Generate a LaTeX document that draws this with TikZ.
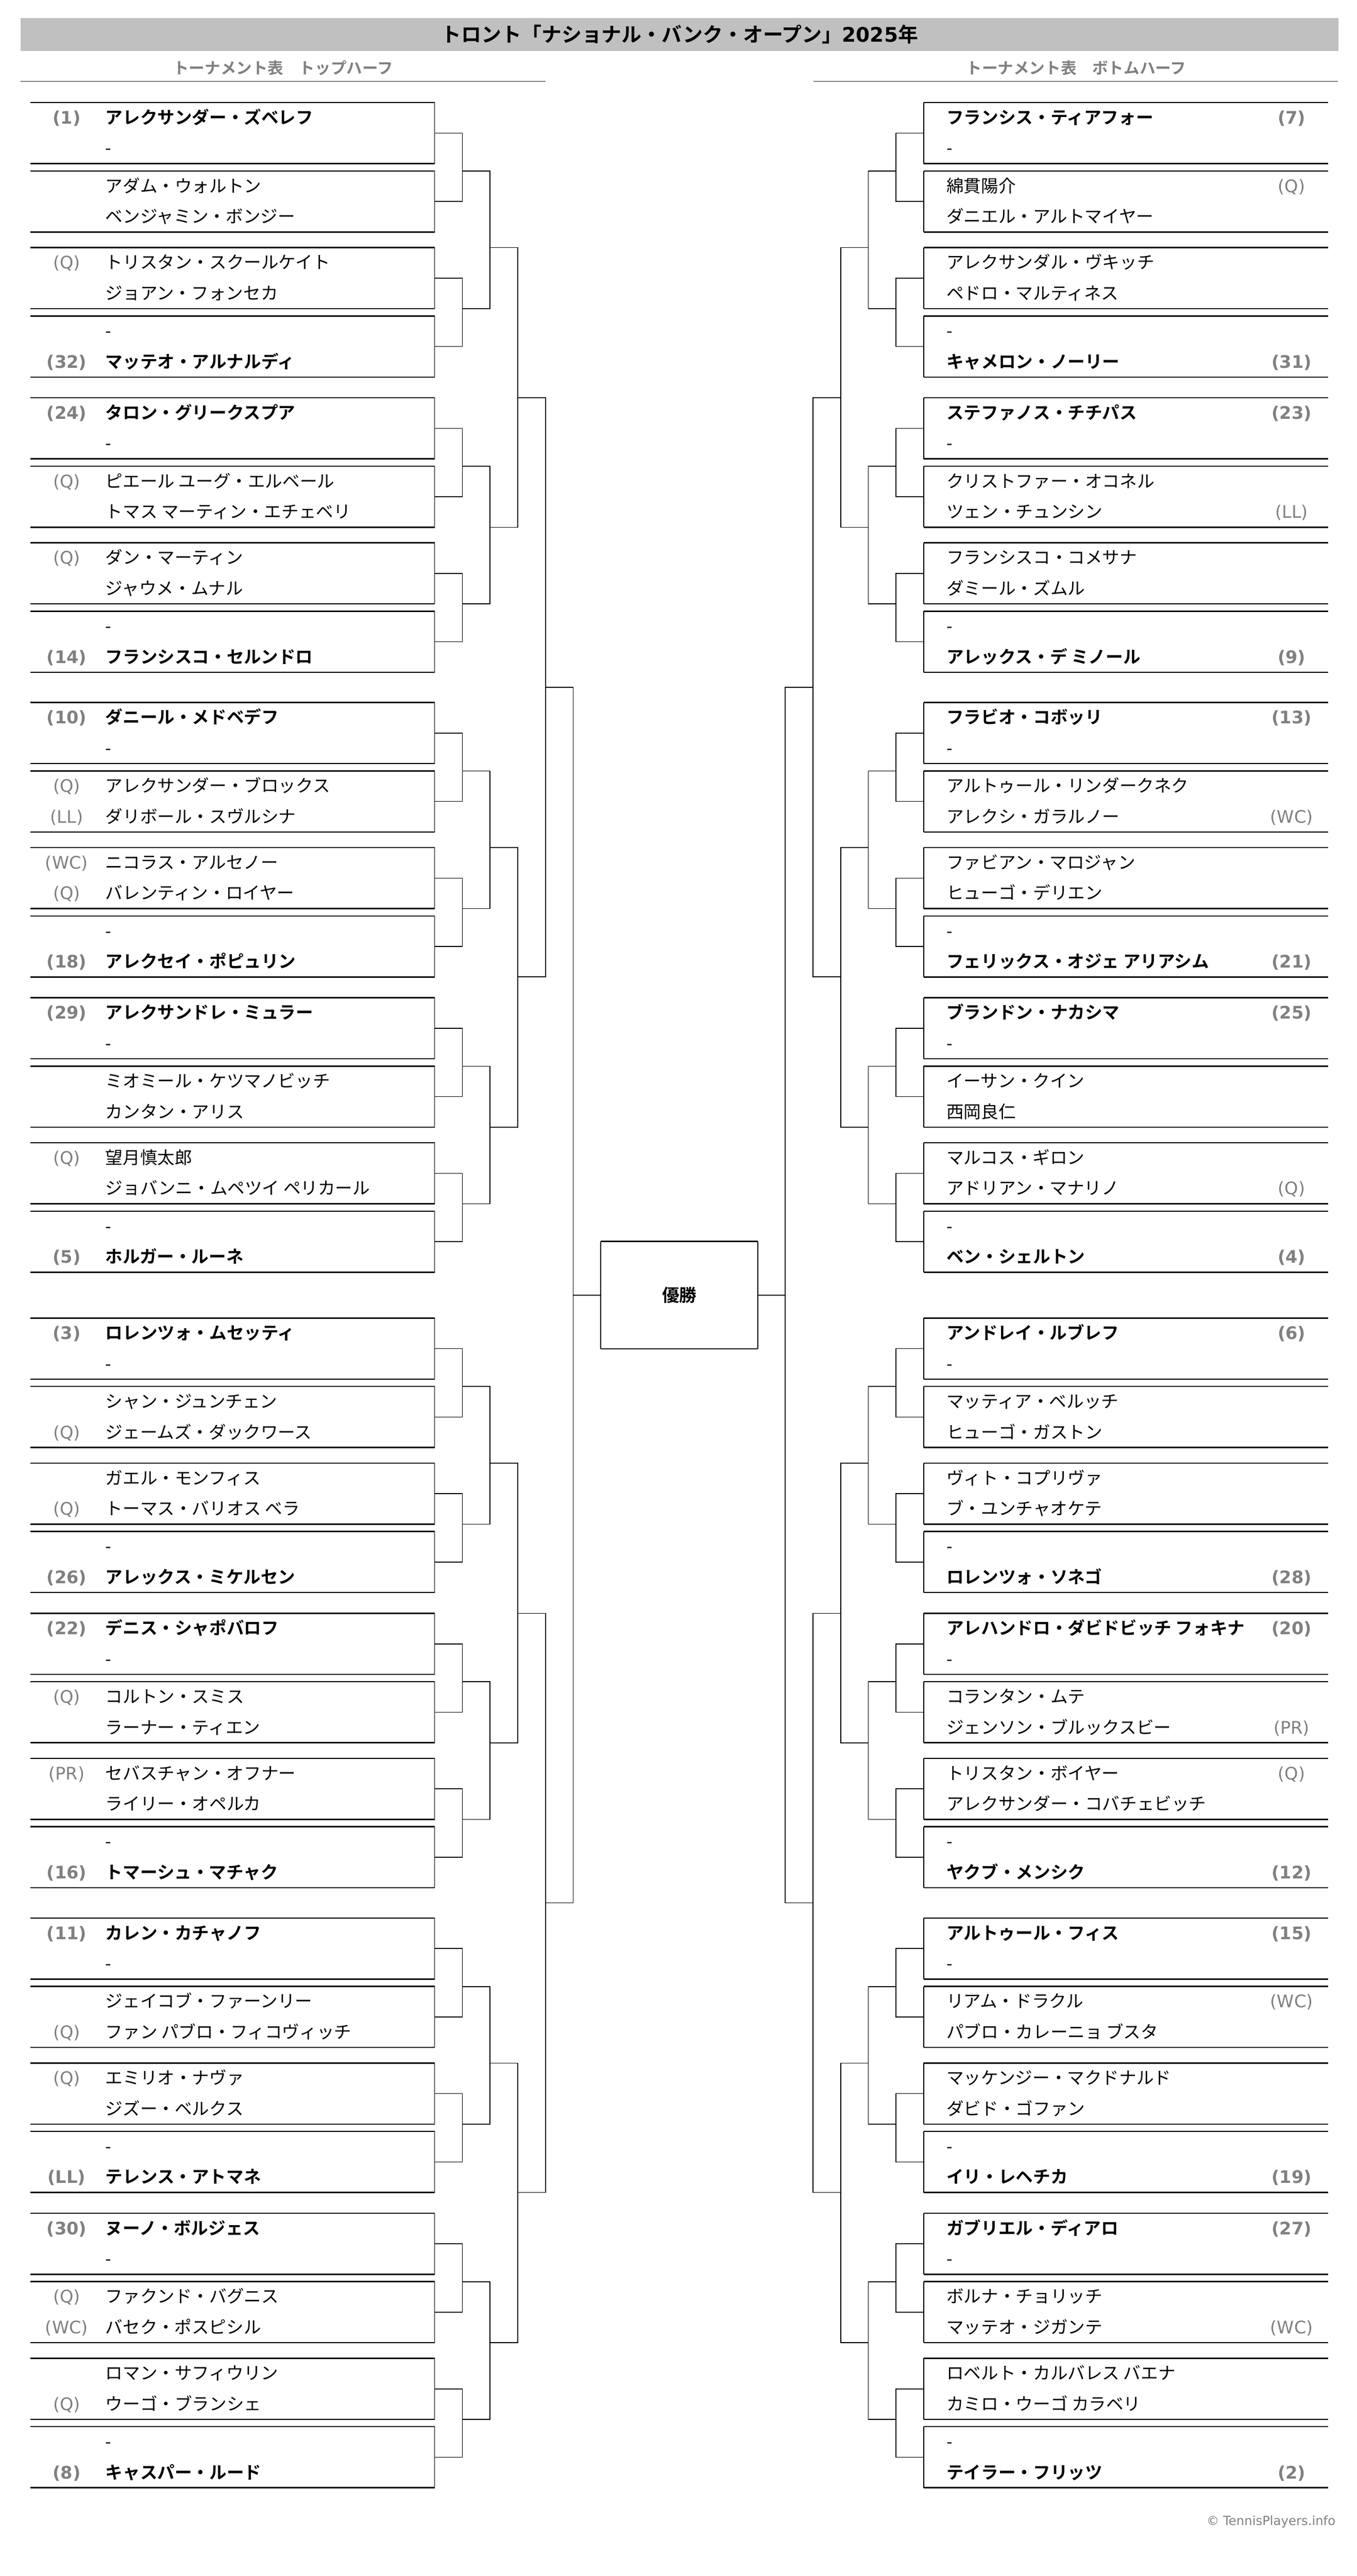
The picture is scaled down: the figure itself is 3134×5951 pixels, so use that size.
\documentclass[tikz,border=0pt]{standalone}
\usepackage{fontspec}
\setmainfont{Noto Sans CJK JP}[BoldFont={Noto Sans CJK JP Bold}]
\newfontfamily\latinfont{DejaVu Sans}
\usepackage{tikz}
\definecolor{barfill}{HTML}{C0C0C0}
\definecolor{seedgray}{HTML}{808080}

% one first-round match, left half: index, then flag/seed/name for both lines
\newcommand{\leftmatch}[7]{%
  \pgfmathsetmacro{\mtop}{boxtop(#1)}
  \node[matchslot, anchor=north west] (L#1) at (70,\mtop) {};
  \draw[boxrule] (L#1.north west) -- (L#1.north east);
  \draw[boxrule] (L#1.south west) -- (L#1.south east);
  \draw[wire] (L#1.north east) -- (L#1.south east);
  \node[seed#2] (L#1sa) at (154,\mtop+49) {#3};
  \node[name#2] (L#1na) at (243,\mtop+49) {#4};
  \node[seed#5] (L#1sb) at (154,\mtop+120) {#6};
  \node[name#5] (L#1nb) at (243,\mtop+120) {#7};
}
% same for the right half
\newcommand{\rightmatch}[7]{%
  \pgfmathsetmacro{\mtop}{boxtop(#1)}
  \node[matchslot, anchor=north east] (R#1) at (3068,\mtop) {};
  \draw[boxrule] (R#1.north west) -- (R#1.north east);
  \draw[boxrule] (R#1.south west) -- (R#1.south east);
  \draw[wire] (R#1.north west) -- (R#1.south west);
  \node[seed#2] (R#1sa) at (2984,\mtop+49) {#3};
  \node[name#2] (R#1na) at (2186,\mtop+49) {#4};
  \node[seed#5] (R#1sb) at (2984,\mtop+120) {#6};
  \node[name#5] (R#1nb) at (2186,\mtop+120) {#7};
}

\begin{document}
\begin{tikzpicture}[x=0.25pt, y=-0.25pt,
    declare function={boxtop(\n)=237+158*mod(\n,2)+335*mod(floor(\n/2),2)+682*mod(floor(\n/4),2)+1386*mod(floor(\n/8),2)+2808*floor(\n/16);},
    matchslot/.style={minimum width=233.5pt, minimum height=35.25pt, inner sep=0pt, outer sep=0pt},
    boxrule/.style={line width=0.75pt},
    wire/.style={line width=0.5pt},
    namen/.style={anchor=base west, inner sep=0pt, font=\fontsize{10pt}{12pt}\selectfont},
    nameb/.style={namen, font=\fontsize{10pt}{12pt}\selectfont\bfseries},
    seedn/.style={anchor=base, inner sep=0pt, text=seedgray, font=\latinfont\fontsize{10pt}{12pt}\selectfont},
    seedb/.style={seedn, font=\latinfont\fontsize{10pt}{12pt}\selectfont\bfseries},
    headline/.style={anchor=base, inner sep=0pt, font=\fontsize{11.6pt}{14pt}\selectfont\bfseries},
    subhead/.style={anchor=base, inner sep=0pt, text=seedgray, font=\fontsize{9.1pt}{11pt}\selectfont\bfseries},
    halfrule/.style={draw=seedgray, line width=0.75pt},
    champbox/.style={minimum width=90.75pt, minimum height=62pt, inner sep=0pt, outer sep=0pt, font=\fontsize{10pt}{12pt}\selectfont\bfseries},
    credit/.style={anchor=base east, inner sep=0pt, text=seedgray, font=\latinfont\fontsize{7.25pt}{9pt}\selectfont}]
    \useasboundingbox (0,0) rectangle (3134,5951);
    \fill[white] (0,0) rectangle (3134,5951);

    % Title bar
    \fill[barfill] (48,42) rectangle (3092,118);
    \node[headline] (heading) at (1570,97) {トロント「ナショナル・バンク・オープン」{\latinfont 2025}年};

    % Half headings
    \node[subhead] (tophalf) at (654,171) {トーナメント表　トップハーフ};
    \node[subhead] (bottomhalf) at (2486,171) {トーナメント表　ボトムハーフ};
    \draw[halfrule] (48,188) -- (1260,188);
    \draw[halfrule] (1879,188) -- (3091,188);

    % Top half (left)
    \leftmatch{0}{b}{(1)}{アレクサンダー・ズベレフ}{n}{}{-}
    \leftmatch{1}{n}{}{アダム・ウォルトン}{n}{}{ベンジャミン・ボンジー}
    \leftmatch{2}{n}{(Q)}{トリスタン・スクールケイト}{n}{}{ジョアン・フォンセカ}
    \leftmatch{3}{n}{}{-}{b}{(32)}{マッテオ・アルナルディ}
    \leftmatch{4}{b}{(24)}{タロン・グリークスプア}{n}{}{-}
    \leftmatch{5}{n}{(Q)}{ピエール ユーグ・エルベール}{n}{}{トマス マーティン・エチェベリ}
    \leftmatch{6}{n}{(Q)}{ダン・マーティン}{n}{}{ジャウメ・ムナル}
    \leftmatch{7}{n}{}{-}{b}{(14)}{フランシスコ・セルンドロ}
    \leftmatch{8}{b}{(10)}{ダニール・メドベデフ}{n}{}{-}
    \leftmatch{9}{n}{(Q)}{アレクサンダー・ブロックス}{n}{(LL)}{ダリボール・スヴルシナ}
    \leftmatch{10}{n}{(WC)}{ニコラス・アルセノー}{n}{(Q)}{バレンティン・ロイヤー}
    \leftmatch{11}{n}{}{-}{b}{(18)}{アレクセイ・ポピュリン}
    \leftmatch{12}{b}{(29)}{アレクサンドレ・ミュラー}{n}{}{-}
    \leftmatch{13}{n}{}{ミオミール・ケツマノビッチ}{n}{}{カンタン・アリス}
    \leftmatch{14}{n}{(Q)}{望月慎太郎}{n}{}{ジョバンニ・ムペツイ ペリカール}
    \leftmatch{15}{n}{}{-}{b}{(5)}{ホルガー・ルーネ}
    \leftmatch{16}{b}{(3)}{ロレンツォ・ムセッティ}{n}{}{-}
    \leftmatch{17}{n}{}{シャン・ジュンチェン}{n}{(Q)}{ジェームズ・ダックワース}
    \leftmatch{18}{n}{}{ガエル・モンフィス}{n}{(Q)}{トーマス・バリオス ベラ}
    \leftmatch{19}{n}{}{-}{b}{(26)}{アレックス・ミケルセン}
    \leftmatch{20}{b}{(22)}{デニス・シャポバロフ}{n}{}{-}
    \leftmatch{21}{n}{(Q)}{コルトン・スミス}{n}{}{ラーナー・ティエン}
    \leftmatch{22}{n}{(PR)}{セバスチャン・オフナー}{n}{}{ライリー・オペルカ}
    \leftmatch{23}{n}{}{-}{b}{(16)}{トマーシュ・マチャク}
    \leftmatch{24}{b}{(11)}{カレン・カチャノフ}{n}{}{-}
    \leftmatch{25}{n}{}{ジェイコブ・ファーンリー}{n}{(Q)}{ファン パブロ・フィコヴィッチ}
    \leftmatch{26}{n}{(Q)}{エミリオ・ナヴァ}{n}{}{ジズー・ベルクス}
    \leftmatch{27}{n}{}{-}{b}{(LL)}{テレンス・アトマネ}
    \leftmatch{28}{b}{(30)}{ヌーノ・ボルジェス}{n}{}{-}
    \leftmatch{29}{n}{(Q)}{ファクンド・バグニス}{n}{(WC)}{バセク・ポスピシル}
    \leftmatch{30}{n}{}{ロマン・サフィウリン}{n}{(Q)}{ウーゴ・ブランシェ}
    \leftmatch{31}{n}{}{-}{b}{(8)}{キャスパー・ルード}

    % Bottom half (right)
    \rightmatch{0}{b}{(7)}{フランシス・ティアフォー}{n}{}{-}
    \rightmatch{1}{n}{(Q)}{綿貫陽介}{n}{}{ダニエル・アルトマイヤー}
    \rightmatch{2}{n}{}{アレクサンダル・ヴキッチ}{n}{}{ペドロ・マルティネス}
    \rightmatch{3}{n}{}{-}{b}{(31)}{キャメロン・ノーリー}
    \rightmatch{4}{b}{(23)}{ステファノス・チチパス}{n}{}{-}
    \rightmatch{5}{n}{}{クリストファー・オコネル}{n}{(LL)}{ツェン・チュンシン}
    \rightmatch{6}{n}{}{フランシスコ・コメサナ}{n}{}{ダミール・ズムル}
    \rightmatch{7}{n}{}{-}{b}{(9)}{アレックス・デ ミノール}
    \rightmatch{8}{b}{(13)}{フラビオ・コボッリ}{n}{}{-}
    \rightmatch{9}{n}{}{アルトゥール・リンダークネク}{n}{(WC)}{アレクシ・ガラルノー}
    \rightmatch{10}{n}{}{ファビアン・マロジャン}{n}{}{ヒューゴ・デリエン}
    \rightmatch{11}{n}{}{-}{b}{(21)}{フェリックス・オジェ アリアシム}
    \rightmatch{12}{b}{(25)}{ブランドン・ナカシマ}{n}{}{-}
    \rightmatch{13}{n}{}{イーサン・クイン}{n}{}{西岡良仁}
    \rightmatch{14}{n}{}{マルコス・ギロン}{n}{(Q)}{アドリアン・マナリノ}
    \rightmatch{15}{n}{}{-}{b}{(4)}{ベン・シェルトン}
    \rightmatch{16}{b}{(6)}{アンドレイ・ルブレフ}{n}{}{-}
    \rightmatch{17}{n}{}{マッティア・ベルッチ}{n}{}{ヒューゴ・ガストン}
    \rightmatch{18}{n}{}{ヴィト・コプリヴァ}{n}{}{ブ・ユンチャオケテ}
    \rightmatch{19}{n}{}{-}{b}{(28)}{ロレンツォ・ソネゴ}
    \rightmatch{20}{b}{(20)}{アレハンドロ・ダビドビッチ フォキナ}{n}{}{-}
    \rightmatch{21}{n}{}{コランタン・ムテ}{n}{(PR)}{ジェンソン・ブルックスビー}
    \rightmatch{22}{n}{(Q)}{トリスタン・ボイヤー}{n}{}{アレクサンダー・コバチェビッチ}
    \rightmatch{23}{n}{}{-}{b}{(12)}{ヤクブ・メンシク}
    \rightmatch{24}{b}{(15)}{アルトゥール・フィス}{n}{}{-}
    \rightmatch{25}{n}{(WC)}{リアム・ドラクル}{n}{}{パブロ・カレーニョ ブスタ}
    \rightmatch{26}{n}{}{マッケンジー・マクドナルド}{n}{}{ダビド・ゴファン}
    \rightmatch{27}{n}{}{-}{b}{(19)}{イリ・レヘチカ}
    \rightmatch{28}{b}{(27)}{ガブリエル・ディアロ}{n}{}{-}
    \rightmatch{29}{n}{}{ボルナ・チョリッチ}{n}{(WC)}{マッテオ・ジガンテ}
    \rightmatch{30}{n}{}{ロベルト・カルバレス バエナ}{n}{}{カミロ・ウーゴ カラベリ}
    \rightmatch{31}{n}{}{-}{b}{(2)}{テイラー・フリッツ}

    % Champion box
    \node[champbox] (champ) at (1569.5,2992) {優勝};
    \draw[boxrule] (champ.north west) -- (champ.north east);
    \draw[boxrule] (champ.south west) -- (champ.south east);
    \draw[wire] (champ.north west) -- (champ.south west);
    \draw[wire] (champ.north east) -- (champ.south east);

    % Bracket lines, both halves
    \foreach \sd/\dir/\side/\cside in {L/1/east/west, R/-1/west/east}{
      % round 1
      \pgfmathsetmacro{\jx}{1569-\dir*501}
      \foreach \k in {0,...,15}{
        \pgfmathtruncatemacro{\ma}{2*\k}
        \pgfmathtruncatemacro{\mb}{2*\k+1}
        \pgfmathsetmacro{\jy}{boxtop(2*\k)+((mod(\k,2)==0) ? 158 : 141)}
        \coordinate (\sd1j\k) at (\jx,\jy);
        \draw[wire] (\sd\ma.\side) -| (\sd1j\k);
        \draw[wire] (\sd\mb.\side) -| (\sd1j\k);
      }
      % round 2
      \pgfmathsetmacro{\jx}{1569-\dir*437}
      \foreach \g in {0,...,7}{
        \pgfmathtruncatemacro{\ka}{2*\g}
        \pgfmathtruncatemacro{\kb}{2*\g+1}
        \pgfmathsetmacro{\jy}{(mod(\g,2)==0) ? (boxtop(4*\g+2)) : (boxtop(4*\g+1)+141)}
        \coordinate (\sd2j\g) at (\jx,\jy);
        \draw[wire] (\sd1j\ka) -| (\sd2j\g);
        \draw[wire] (\sd1j\kb) -| (\sd2j\g);
      }
      % round 3
      \pgfmathsetmacro{\jx}{1569-\dir*373}
      \foreach \h in {0,...,3}{
        \pgfmathtruncatemacro{\ga}{2*\h}
        \pgfmathtruncatemacro{\gb}{2*\h+1}
        \pgfmathsetmacro{\jy}{(mod(\h,2)==0) ? (boxtop(8*\h+4)) : (boxtop(8*\h+3)+141)}
        \coordinate (\sd3j\h) at (\jx,\jy);
        \draw[wire] (\sd2j\ga) -| (\sd3j\h);
        \draw[wire] (\sd2j\gb) -| (\sd3j\h);
      }
      % quarter finals
      \pgfmathsetmacro{\jx}{1569-\dir*309}
      \foreach \q in {0,1}{
        \pgfmathtruncatemacro{\ha}{2*\q}
        \pgfmathtruncatemacro{\hb}{2*\q+1}
        \pgfmathsetmacro{\jy}{(boxtop(16*\q+4)+boxtop(16*\q+11)+141)/2}
        \coordinate (\sd4j\q) at (\jx,\jy);
        \draw[wire] (\sd3j\ha) -| (\sd4j\q);
        \draw[wire] (\sd3j\hb) -| (\sd4j\q);
      }
      % semi final
      \pgfmathsetmacro{\jx}{1569-\dir*245}
      \coordinate (\sd5j) at (\jx,2992);
      \draw[wire] (\sd4j0) -| (\sd5j);
      \draw[wire] (\sd4j1) -| (\sd5j);
      \draw[wire] (\sd5j) -- (champ.\cside);
    }

    % Credit
    \node[credit] (credit) at (3086,5834) {© TennisPlayers.info};
\end{tikzpicture}
\end{document}
